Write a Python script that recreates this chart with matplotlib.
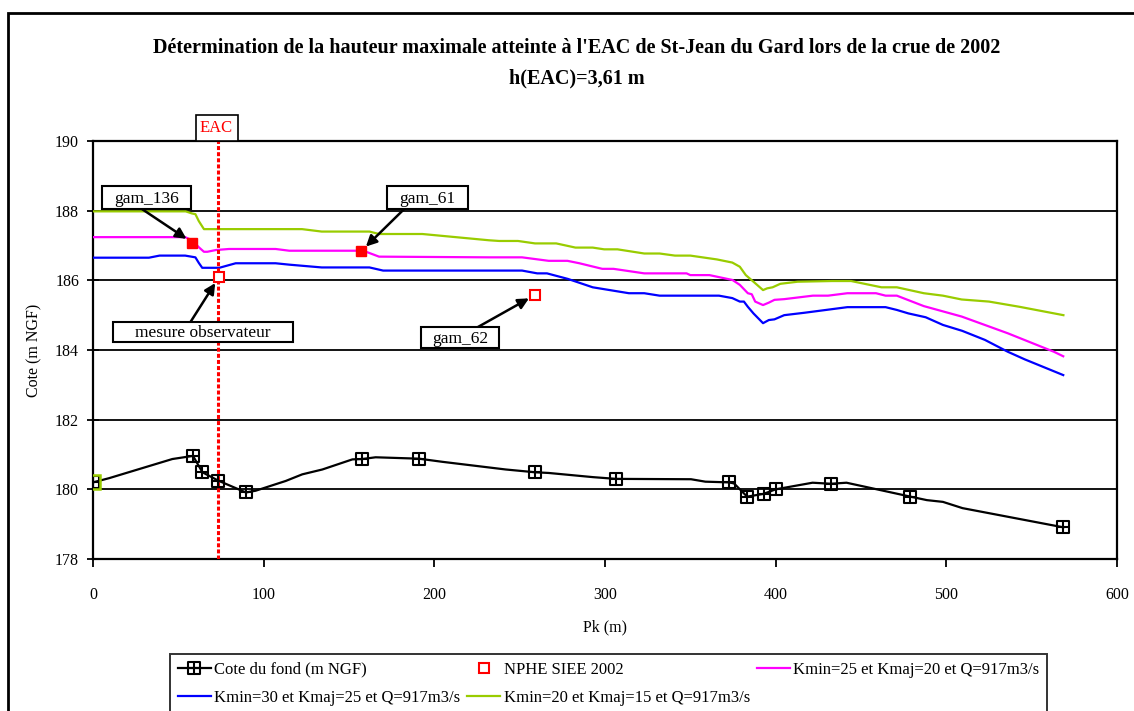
import matplotlib
matplotlib.use("Agg")
import matplotlib.pyplot as plt
from matplotlib.path import Path
from matplotlib.patches import Rectangle

plt.rcParams['font.family'] = ['Liberation Serif', 'DejaVu Serif']

# ---------------- data ----------------
pk_fond = [0, 9.4, 46.5, 58.6, 64.1, 73.4, 89.6, 95.3, 112.9, 122.6, 134.4, 152, 157.8,
           165.6, 191, 204.7, 241.8, 259, 267, 293, 306.5, 350.4, 358.8, 372.4, 375.6,
           383.3, 392.9, 400, 421.6, 432.4, 441.5, 479, 488.6, 498, 509.5, 568.5]
z_fond = [180.2, 180.32, 180.87, 180.96, 180.49, 180.25, 179.91, 179.96, 180.24, 180.43,
          180.57, 180.86, 180.87, 180.92, 180.88, 180.79, 180.57, 180.49, 180.47, 180.35,
          180.3, 180.29, 180.22, 180.2, 180.17, 179.79, 179.87, 180.0, 180.19, 180.16,
          180.19, 179.79, 179.69, 179.64, 179.46, 178.91]
fond_marker_idx = [0, 3, 4, 5, 6, 12, 14, 17, 20, 23, 25, 26, 27, 29, 31, 35]

pk_k25 = [0, 54, 58, 62, 65, 67, 72, 79.7, 107, 115, 154, 160, 167.6, 232, 238, 251.4,
          267, 278, 285, 298.4, 305, 323, 347.8, 350, 361.2, 374.7, 379, 383.7, 386, 388,
          392.6, 396, 399.3, 405, 421.8, 430.7, 442, 458.8, 464.4, 471, 486.8, 509, 536,
          563, 568.5]
z_k25 = [187.24, 187.24, 187.15, 186.95, 186.82, 186.82, 186.87, 186.9, 186.9, 186.85,
         186.85, 186.82, 186.68, 186.66, 186.66, 186.66, 186.56, 186.56, 186.49, 186.33,
         186.33, 186.2, 186.2, 186.15, 186.15, 186.01, 185.87, 185.63, 185.6, 185.39,
         185.29, 185.36, 185.44, 185.46, 185.56, 185.56, 185.63, 185.63, 185.56, 185.56,
         185.26, 184.96, 184.48, 183.95, 183.82]

pk_k30 = [0, 32.8, 39, 54, 60, 62, 64, 74, 83.6, 107, 115, 134, 162, 170, 232, 238, 251.4,
          260.3, 266, 278.3, 292.8, 314, 323, 332, 366.8, 374.6, 379, 381.4, 383.7, 387,
          392.6, 396, 399.3, 405, 417, 442, 464.4, 471, 477.8, 487.9, 498, 509.3, 522.6,
          536, 546, 568.5]
z_k30 = [186.65, 186.65, 186.71, 186.71, 186.66, 186.5, 186.36, 186.36, 186.49, 186.49,
         186.45, 186.37, 186.37, 186.28, 186.28, 186.28, 186.28, 186.2, 186.2, 186.04,
         185.8, 185.63, 185.63, 185.56, 185.56, 185.49, 185.39, 185.39, 185.24, 185.05,
         184.77, 184.86, 184.88, 185.0, 185.07, 185.23, 185.23, 185.15, 185.05, 184.94,
         184.72, 184.55, 184.29, 183.95, 183.73, 183.28]

pk_k20 = [0, 54.3, 58, 60, 62, 65, 122.5, 134, 162, 167.6, 193, 232, 238, 249, 259, 271.4,
          282.7, 292.8, 299.5, 307.3, 323, 332, 341, 350, 365.6, 374.6, 379, 382.5, 387,
          392.6, 395, 398.2, 402.7, 412.8, 433, 444.2, 462, 471, 486.8, 498, 509, 525,
          542.9, 568.6]
z_k20 = [187.98, 187.98, 187.92, 187.9, 187.7, 187.47, 187.47, 187.4, 187.4, 187.33,
         187.33, 187.15, 187.13, 187.13, 187.06, 187.06, 186.94, 186.94, 186.89, 186.89,
         186.77, 186.77, 186.71, 186.71, 186.6, 186.51, 186.39, 186.15, 185.96, 185.72,
         185.77, 185.8, 185.9, 185.96, 185.98, 185.98, 185.8, 185.8, 185.63, 185.56,
         185.45, 185.39, 185.24, 185.0]

nphe_pk = [58.2, 157.0, 73.8, 259.0]
nphe_z = [187.08, 186.83, 186.09, 185.58]
nphe_names = ['gam_136', 'gam_61', 'mesure observateur', 'gam_62']

eac_pk = 73.3
x_ticks = [0, 100, 200, 300, 400, 500, 600]
y_ticks = [178, 180, 182, 184, 186, 188, 190]

title1 = "Détermination de la hauteur maximale atteinte à l'EAC de St-Jean du Gard lors de la crue de 2002"
title2 = "h(EAC)=3,61 m"
lbl_fond = "Cote du fond (m NGF)"
lbl_nphe = "NPHE SIEE 2002"
lbl_k25 = "Kmin=25 et Kmaj=20 et Q=917m3/s"
lbl_k30 = "Kmin=30 et Kmaj=25 et Q=917m3/s"
lbl_k20 = "Kmin=20 et Kmaj=15 et Q=917m3/s"

# ---------------- figure ----------------
W, H = 1134, 711
fig = plt.figure(figsize=(W / 100, H / 100), dpi=100)
ax = fig.add_axes([93 / W, 1 - 559 / H, (1117 - 93) / W, (559 - 141) / H])

# outer frame
fig.patches.append(Rectangle((8 / W, -0.1), 1.2, 0.1 + (H - 13) / H, transform=fig.transFigure,
                             fill=False, edgecolor='black', linewidth=2.0))

# square-with-cross marker
sq_cross = Path([(-1, -1), (1, -1), (1, 1), (-1, 1), (-1, -1), (0, -1), (0, 1), (-1, 0), (1, 0)],
                [Path.MOVETO, Path.LINETO, Path.LINETO, Path.LINETO, Path.CLOSEPOLY,
                 Path.MOVETO, Path.LINETO, Path.MOVETO, Path.LINETO])

ax.set_xlim(0, 600)
ax.set_ylim(178, 190)
ax.set_xticks(x_ticks)
ax.set_yticks(y_ticks)
ax.yaxis.grid(True, color='black', linewidth=1.3)
ax.set_axisbelow(True)
for s in ax.spines.values():
    s.set_linewidth(1.6)
ax.tick_params(axis='y', direction='inout', length=8, width=1.3, labelsize=11.5, pad=6)
ax.tick_params(axis='x', direction='out', length=6, width=1.3, labelsize=11.5, pad=14)

l_fond, = ax.plot(pk_fond, z_fond, color='black', linewidth=1.6, marker=sq_cross,
                  markersize=8, markerfacecolor='none', markeredgecolor='black',
                  markeredgewidth=1.5, markevery=fond_marker_idx, label=lbl_fond, zorder=5)
ax.plot(pk_fond[:1], z_fond[:1], linestyle='none', marker='s', markersize=10.5,
        markerfacecolor='none', markeredgecolor='#99CC00', markeredgewidth=1.8, zorder=6)

l_k25, = ax.plot(pk_k25, z_k25, color='#FF00FF', linewidth=1.6, label=lbl_k25, zorder=3)
l_k30, = ax.plot(pk_k30, z_k30, color='#0000FF', linewidth=1.6, label=lbl_k30, zorder=3)
l_k20, = ax.plot(pk_k20, z_k20, color='#99CC00', linewidth=1.6, label=lbl_k20, zorder=3)

ax.plot(nphe_pk[:2], nphe_z[:2], linestyle='none', marker='s', markersize=7,
        markerfacecolor='#FF0000', markeredgecolor='#FF0000', zorder=7)
l_nphe, = ax.plot(nphe_pk[2:], nphe_z[2:], linestyle='none', marker='s', markersize=6.5,
                  markerfacecolor='white', markeredgecolor='#FF0000', markeredgewidth=1.5,
                  label=lbl_nphe, zorder=7)

# EAC vertical line
ax.axvline(eac_pk, color='#FF0000', linewidth=2.2, linestyle=(0, (1.3, 0.7)), zorder=4)
ax.add_patch(Rectangle((60.2, 190.0), 24.5, 0.75, facecolor='white', edgecolor='black',
                       linewidth=1.2, clip_on=False, zorder=9))
ax.text(72.4, 190.36, 'EAC', color='#FF0000', fontsize=12, ha='center', va='center',
        clip_on=False, zorder=10)

# annotation boxes: (x0, x1, y0, y1) of box, arrow start
boxes = [
    (5.1, 57.2, 188.04, 188.71, 28.9, 188.04),
    (172.4, 219.7, 188.04, 188.71, 182.2, 188.04),
    (11.7, 117.2, 184.24, 184.81, 57.2, 184.81),
    (192.4, 237.9, 184.07, 184.65, 225.2, 184.65),
]
for i, (x0, x1, y0, y1, sx, sy) in enumerate(boxes):
    ax.annotate('', xy=(nphe_pk[i], nphe_z[i]), xytext=(sx, sy),
                arrowprops=dict(arrowstyle='-|>', color='black', lw=1.8, mutation_scale=16,
                                shrinkA=0, shrinkB=5), zorder=8, annotation_clip=False)
    ax.add_patch(Rectangle((x0, y0), x1 - x0, y1 - y0, facecolor='white', edgecolor='black',
                           linewidth=1.5, zorder=9))
    ax.text((x0 + x1) / 2, (y0 + y1) / 2 - 0.05, nphe_names[i], fontsize=12.5, ha='center',
            va='center', zorder=10)

ax.set_xlabel('Pk (m)', fontsize=11.5, labelpad=12)
ax.set_ylabel('Cote (m NGF)', fontsize=11.5, labelpad=9)

fig.text(577 / W, 1 - 48 / H, title1, ha='center', va='center', fontsize=14.5, fontweight='bold')
fig.text(577 / W, 1 - 78 / H, title2, ha='center', va='center', fontsize=14.5, fontweight='bold')

handles = [l_fond, l_k30, l_nphe, l_k20, l_k25]
labels = [h.get_label() for h in handles]
leg = fig.legend(handles, labels, loc='upper left', bbox_to_anchor=(170 / W, 1 - 654 / H),
                 ncol=3, frameon=True, fancybox=False, fontsize=12, handlelength=2.0,
                 handletextpad=0.2, columnspacing=0.4, borderaxespad=0, borderpad=0.45,
                 labelspacing=0.75)
leg.get_frame().set_edgecolor('black')
leg.get_frame().set_linewidth(1.4)

fig.savefig('out.png', dpi=100)
